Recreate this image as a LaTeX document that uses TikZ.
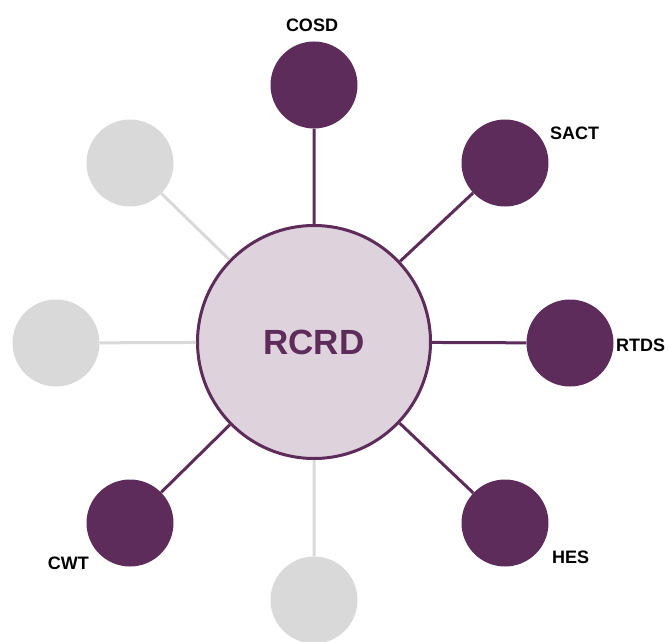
\documentclass[tikz,border=0pt]{standalone}
\usepackage{fontspec}
\setmainfont{Liberation Sans}
\usepackage{xcolor}
\definecolor{plum}{RGB}{94,44,90}
\definecolor{lightplum}{RGB}{222,211,221}
\definecolor{lightgrey}{RGB}{217,217,217}
\usepackage{tikz}
\tikzset{
    hub/.style={draw=plum, line width=3pt, fill=lightplum, circle, minimum size=233pt, inner sep=0pt, text=plum, font=\bfseries\fontsize{35}{40}\selectfont},
    sat/.style={circle, fill=plum, minimum size=87pt, inner sep=0pt},
    sat-off/.style={sat, fill=lightgrey},
    spoke/.style={plum, line width=3pt},
    spoke-off/.style={lightgrey, line width=3pt},
    lbl/.style={inner sep=0pt, font=\bfseries\fontsize{18}{20}\selectfont}
}
\begin{document}
\begin{tikzpicture}[x=1pt, y=-1pt]
            \useasboundingbox (0,0) rectangle (670,642);
            \path
                (314,342) node[hub] (rcrd) {RCRD}
                (314,85) node[sat] (cosd) {}
                (505,163) node[sat] (sact) {}
                (570,343) node[sat] (rtds) {}
                (505,523) node[sat] (hes) {}
                (130,523) node[sat] (cwt) {}
                (314,600) node[sat-off] (blank-s) {}
                (56,343) node[sat-off] (blank-w) {}
                (130,163) node[sat-off] (blank-nw) {};

            \path
                (312,25) node[lbl] (cosd-label) {COSD}
                (550,133) node[lbl, anchor=west] (sact-label) {SACT}
                (616,345) node[lbl, anchor=west] (rtds-label) {RTDS}
                (552,557) node[lbl, anchor=west] (hes-label) {HES}
                (89,563) node[lbl, anchor=east] (cwt-label) {CWT};

            \draw[spoke] (rcrd) -- (cosd) (rcrd) -- (sact) (rcrd) -- (rtds) (rcrd) -- (hes) (rcrd) -- (cwt);
            \draw[spoke-off] (rcrd) -- (blank-s) (rcrd) -- (blank-w) (rcrd) -- (blank-nw);
          \end{tikzpicture}
\end{document}
